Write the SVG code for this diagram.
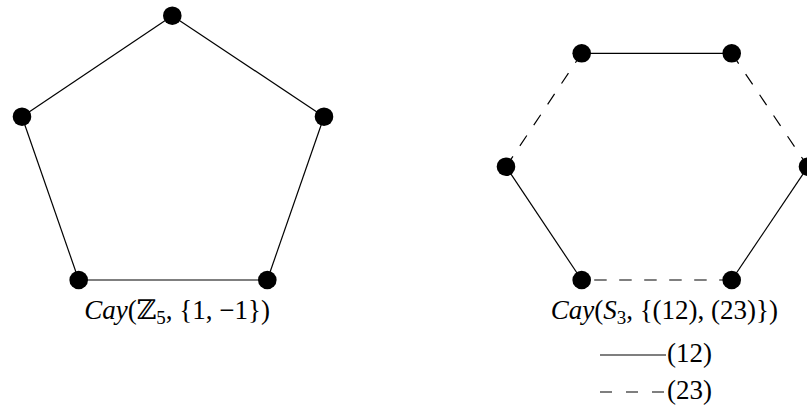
<svg xmlns="http://www.w3.org/2000/svg" width="807" height="408" viewBox="0 0 807 408">
<style>
.e{stroke:#000;stroke-width:1.2;fill:none}
.d{stroke-dasharray:12.5,12.5}
.n{fill:#000}
.t{font-family:"Liberation Serif","DejaVu Serif",serif;font-size:27px;fill:#000}
.i{font-style:italic}
</style>
<rect width="807" height="408" fill="#fff"/>
<g id="connectors">
<line class="e" x1="172.3" y1="15.7" x2="324" y2="116.7"/>
<line class="e" x1="324" y1="116.7" x2="267.3" y2="280"/>
<line class="e" x1="267.3" y1="280" x2="78.7" y2="280"/>
<line class="e" x1="78.7" y1="280" x2="22" y2="116.7"/>
<line class="e" x1="22" y1="116.7" x2="172.3" y2="15.7"/>
<line class="e" x1="581.7" y1="53.3" x2="731.7" y2="53.3"/>
<line class="e d" x1="731.7" y1="53.3" x2="808" y2="166.7"/>
<line class="e" x1="808" y1="166.7" x2="731.7" y2="280"/>
<line class="e d" x1="731.7" y1="280" x2="581.7" y2="280"/>
<line class="e" x1="581.7" y1="280" x2="506" y2="166.7"/>
<line class="e d" x1="506" y1="166.7" x2="581.7" y2="53.3"/>
</g>
<g id="z0"><circle class="n" cx="172.3" cy="15.7" r="9.3"/></g>
<g id="z1"><circle class="n" cx="324" cy="116.7" r="9.3"/></g>
<g id="z2"><circle class="n" cx="267.3" cy="280" r="9.3"/></g>
<g id="z3"><circle class="n" cx="78.7" cy="280" r="9.3"/></g>
<g id="z4"><circle class="n" cx="22" cy="116.7" r="9.3"/></g>
<g id="s0"><circle class="n" cx="581.7" cy="53.3" r="9.3"/></g>
<g id="s1"><circle class="n" cx="731.7" cy="53.3" r="9.3"/></g>
<g id="s2"><circle class="n" cx="808" cy="166.7" r="9.3"/></g>
<g id="s3"><circle class="n" cx="731.7" cy="280" r="9.3"/></g>
<g id="s4"><circle class="n" cx="581.7" cy="280" r="9.3"/></g>
<g id="s5"><circle class="n" cx="506" cy="166.7" r="9.3"/></g>
<g id="label1">
<text class="t" x="270" y="319" text-anchor="end"><tspan class="i">Cay</tspan>(ℤ<tspan font-size="19" dy="5">5</tspan><tspan dy="-5">, {1, −1})</tspan></text>
</g>
<g id="label2">
<text class="t" x="778" y="319" text-anchor="end"><tspan class="i">Cay</tspan>(<tspan class="i">S</tspan><tspan font-size="19" dy="5">3</tspan><tspan dy="-5">, {(12), (23)})</tspan></text>
</g>
<g id="legend">
<line x1="600" y1="355" x2="666" y2="355" stroke="#000" stroke-width="1.2"/>
<text class="t" x="667" y="362">(12)</text>
<line x1="600" y1="392" x2="666" y2="392" stroke="#000" stroke-width="1.2" stroke-dasharray="12,14"/>
<text class="t" x="667" y="399">(23)</text>
</g>
</svg>
